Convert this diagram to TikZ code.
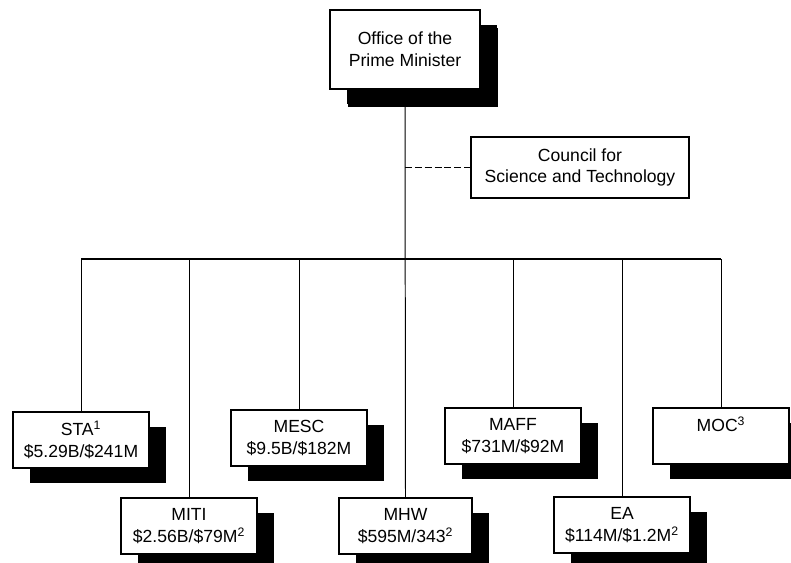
\documentclass[tikz,border=0pt]{standalone}
\usepackage{fontspec}
\setmainfont{Liberation Sans}
\usetikzlibrary{positioning, shadows}

\begin{document}
\begin{tikzpicture}[x=0.025cm, y=-0.025cm,
    org/.style={draw=black, line width=0.9pt, fill=white, align=center, inner sep=2pt,
        font=\fontsize{12.5}{15.5}\selectfont,
        drop shadow={shadow xshift=0.43cm, shadow yshift=-0.37cm, fill=black, opacity=1}},
    unit/.style={org, minimum width=3.4cm, minimum height=1.4cm},
    ln/.style={black, line width=0.7pt}]
    \useasboundingbox (0,0) rectangle (791,562);
    % top of the chart
    \node[org, minimum width=3.75cm, minimum height=1.975cm,
        drop shadow={shadow xshift=0.45cm, shadow yshift=-0.45cm, fill=black, opacity=1}]
        (pm) at (405,49.5) {Office of the\\Prime Minister};
    \node[draw=black, line width=0.9pt, fill=white, align=center, inner sep=2pt,
        font=\fontsize{12.5}{15.5}\selectfont, minimum width=5.45cm, minimum height=1.525cm]
        (cst) at (580,167.5) {Council for\\Science and Technology};
    % ministries, upper row
    \node[unit] (sta)  at (81,440)  {STA\textsuperscript{1}\\\$5.29B/\$241M};
    \node[unit] (mesc) at (299,438) {MESC\\\$9.5B/\$182M};
    \node[unit] (maff) at (513,436) {MAFF\\\$731M/\$92M};
    \node[unit] (moc)  at (721,436) {MOC\textsuperscript{3}\\\phantom{\$}};
    % ministries, lower row
    \node[unit] (miti) at (189,526) {MITI\\\$2.56B/\$79M\textsuperscript{2}};
    \node[unit, minimum width=3.325cm] (mhw) at (405.5,526) {MHW\\\$595M/343\textsuperscript{2}};
    \node[unit] (ea)   at (622,525) {EA\\\$114M/\$1.2M\textsuperscript{2}};
    % connectors
    \coordinate (bus) at (405,259);
    \coordinate (tap) at (pm.south |- cst.west);
    \draw[ln] (pm.south) -- (mhw.north);
    \draw[ln, dashed, dash pattern=on 5pt off 2pt] (tap) -- (cst.west);
    \draw[ln, line width=1pt] (sta.north |- bus) -- (moc.north |- bus);
    \foreach \m in {sta,mesc,maff,moc,miti,ea} {
        \draw[ln] (\m.north) -- (\m.north |- bus);
    }
\end{tikzpicture}
\end{document}
